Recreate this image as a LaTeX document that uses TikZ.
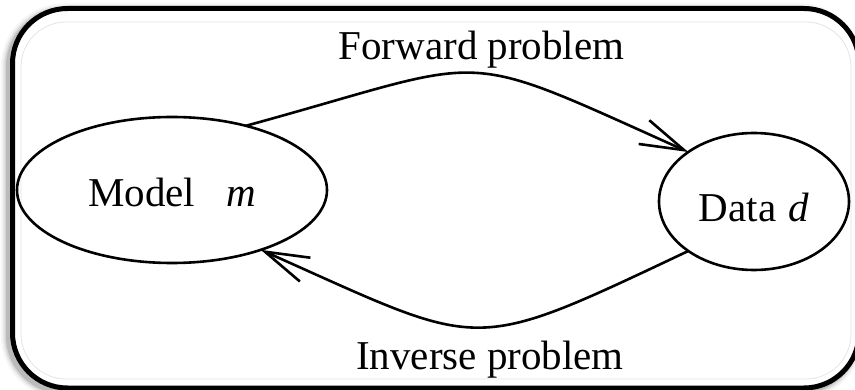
\documentclass[tikz,border=0pt]{standalone}
\usepackage{fontspec}
\setmainfont{Liberation Serif}
\usetikzlibrary{shapes.geometric,arrows.meta}
\begin{document}
\begin{tikzpicture}[x=1pt,y=-1pt,
  ell/.style={draw, ellipse, line width=2.6pt, inner sep=0pt, outer sep=0pt, font=\fontsize{41}{49}\selectfont},
  lbl/.style={font=\fontsize{41}{49}\selectfont, anchor=base, inner sep=0pt},
  conn/.style={line width=2.6pt, -{Straight Barb[length=44pt,width=26pt,line width=2.6pt]}}]
\useasboundingbox (0,0) rectangle (855,390);
\clip (0,0) rectangle (855,390);
% shadow of the frame
\foreach \w/\o in {16/0.04, 12/0.06, 9/0.08, 6/0.12}{
  \draw[line width=\w pt, black, opacity=\o, rounded corners=55pt] (9,11.5) rectangle (855,391);
}
\fill[white, rounded corners=55pt] (12.5,8.5) rectangle (859,388);
\draw[gray!20, line width=0.8pt, rounded corners=45pt] (21,22) rectangle (851,379);
\draw[line width=5pt, rounded corners=55pt] (12.5,8.5) rectangle (859,388);
% nodes
\node[ell, minimum width=310pt, minimum height=146pt, text height=34pt, text depth=0pt] (model) at (172,190) {Model\hspace{0.75em}\textit{m}};
\node[ell, minimum width=190pt, minimum height=137pt, text height=41pt, text depth=0pt] (data) at (754,201.5) {Data\hspace{0.3em}\textit{d}};
% connectors
\draw[conn] (model.41) .. controls (498,57) and (450,45) .. (data.143.5);
\draw[conn] (data.217.4) .. controls (466,356) and (486,350) .. (model.326.6);
% labels
\node[lbl] (fwd) at (481.5,60) {Forward problem};
\node[lbl] (inv) at (490,370) {Inverse problem};
\end{tikzpicture}
\end{document}
